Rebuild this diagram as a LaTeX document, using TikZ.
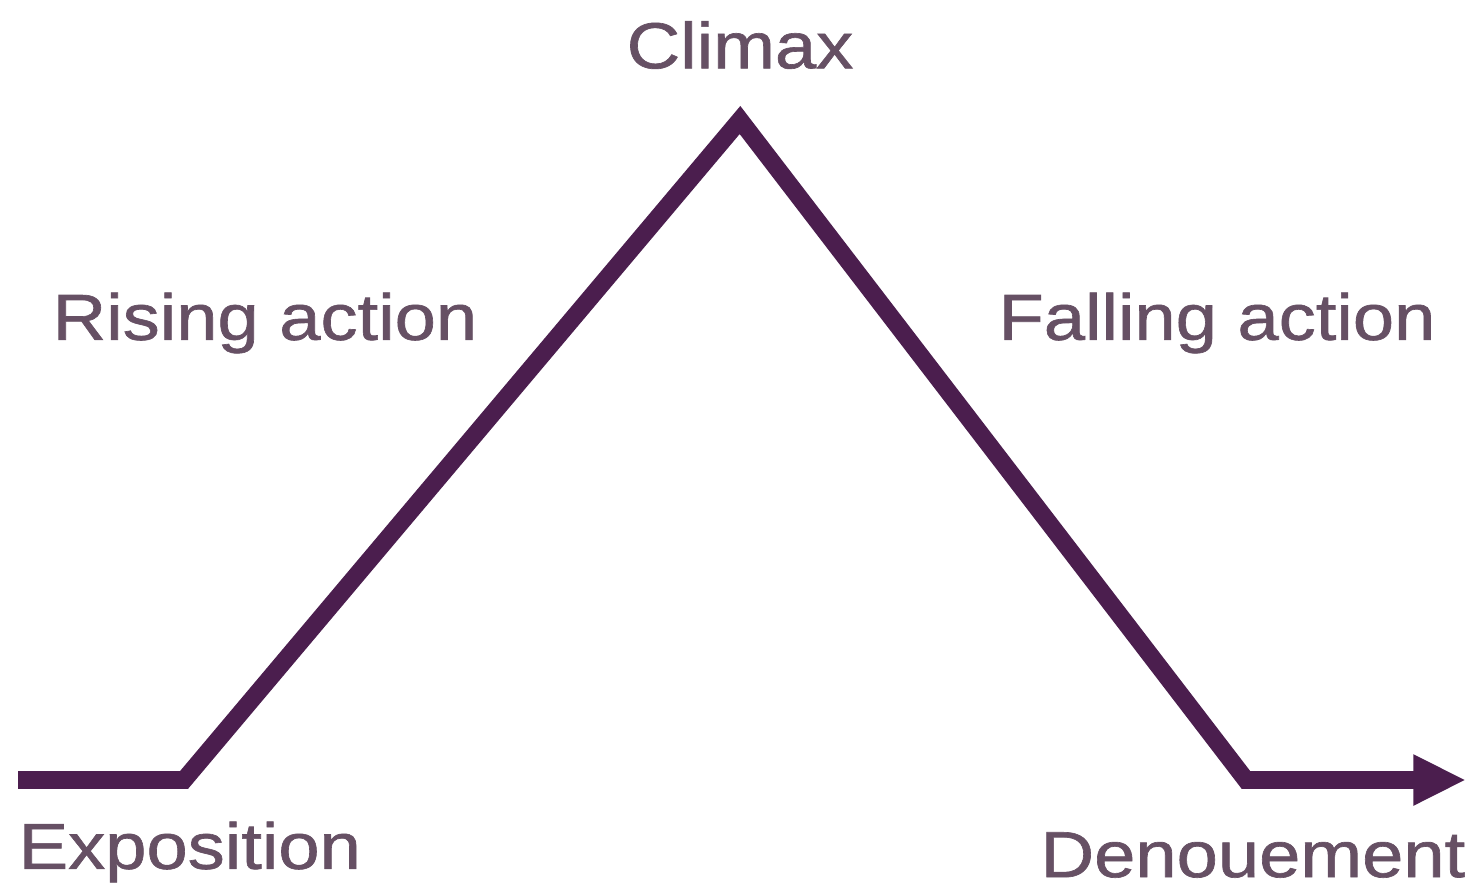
\documentclass[tikz,border=0pt]{standalone}
\usepackage{fontspec}
\setmainfont{Liberation Sans}[FakeStretch=1.14, FakeBold=1]
\usetikzlibrary{calc, arrows.meta}
\definecolor{linie}{HTML}{4B1E4E}
\definecolor{schrift}{HTML}{665064}
\tikzset{
    bogen/.style={line width=5pt, color=linie, line join=miter},
    etikett/.style={text=schrift, font=\fontsize{18.5}{22}\selectfont, inner sep=0pt}
}

\begin{document}
\begin{tikzpicture}[x=0.01cm, y=-0.01cm]

% Rahmen (Bildgroesse)
\useasboundingbox (0,0) rectangle (1481,890);

% Eckpunkte der Handlungskurve
\coordinate (S) at (18,780);
\coordinate (E) at (184,780);
\coordinate (H) at (740,120);
\coordinate (D) at (1246,780);
\coordinate (Z) at (1466,780);

% Kurve mit Pfeil am Ende
\draw[bogen, -{Triangle[length=15pt, width=13.5pt]}] (S) -- (E) -- (H) -- (D) -- (Z);

% Beschriftungen
\node[etikett] (climax) at (740,45) {Climax};
\node[etikett] (rising) at (265,323) {Rising action};
\node[etikett] (falling) at (1217,323) {Falling action};
\node[etikett, anchor=west] (expo) at (18,852) {Exposition};
\node[etikett, anchor=east] (denoue) at (1466,855) {Denouement};

\end{tikzpicture}
\end{document}
